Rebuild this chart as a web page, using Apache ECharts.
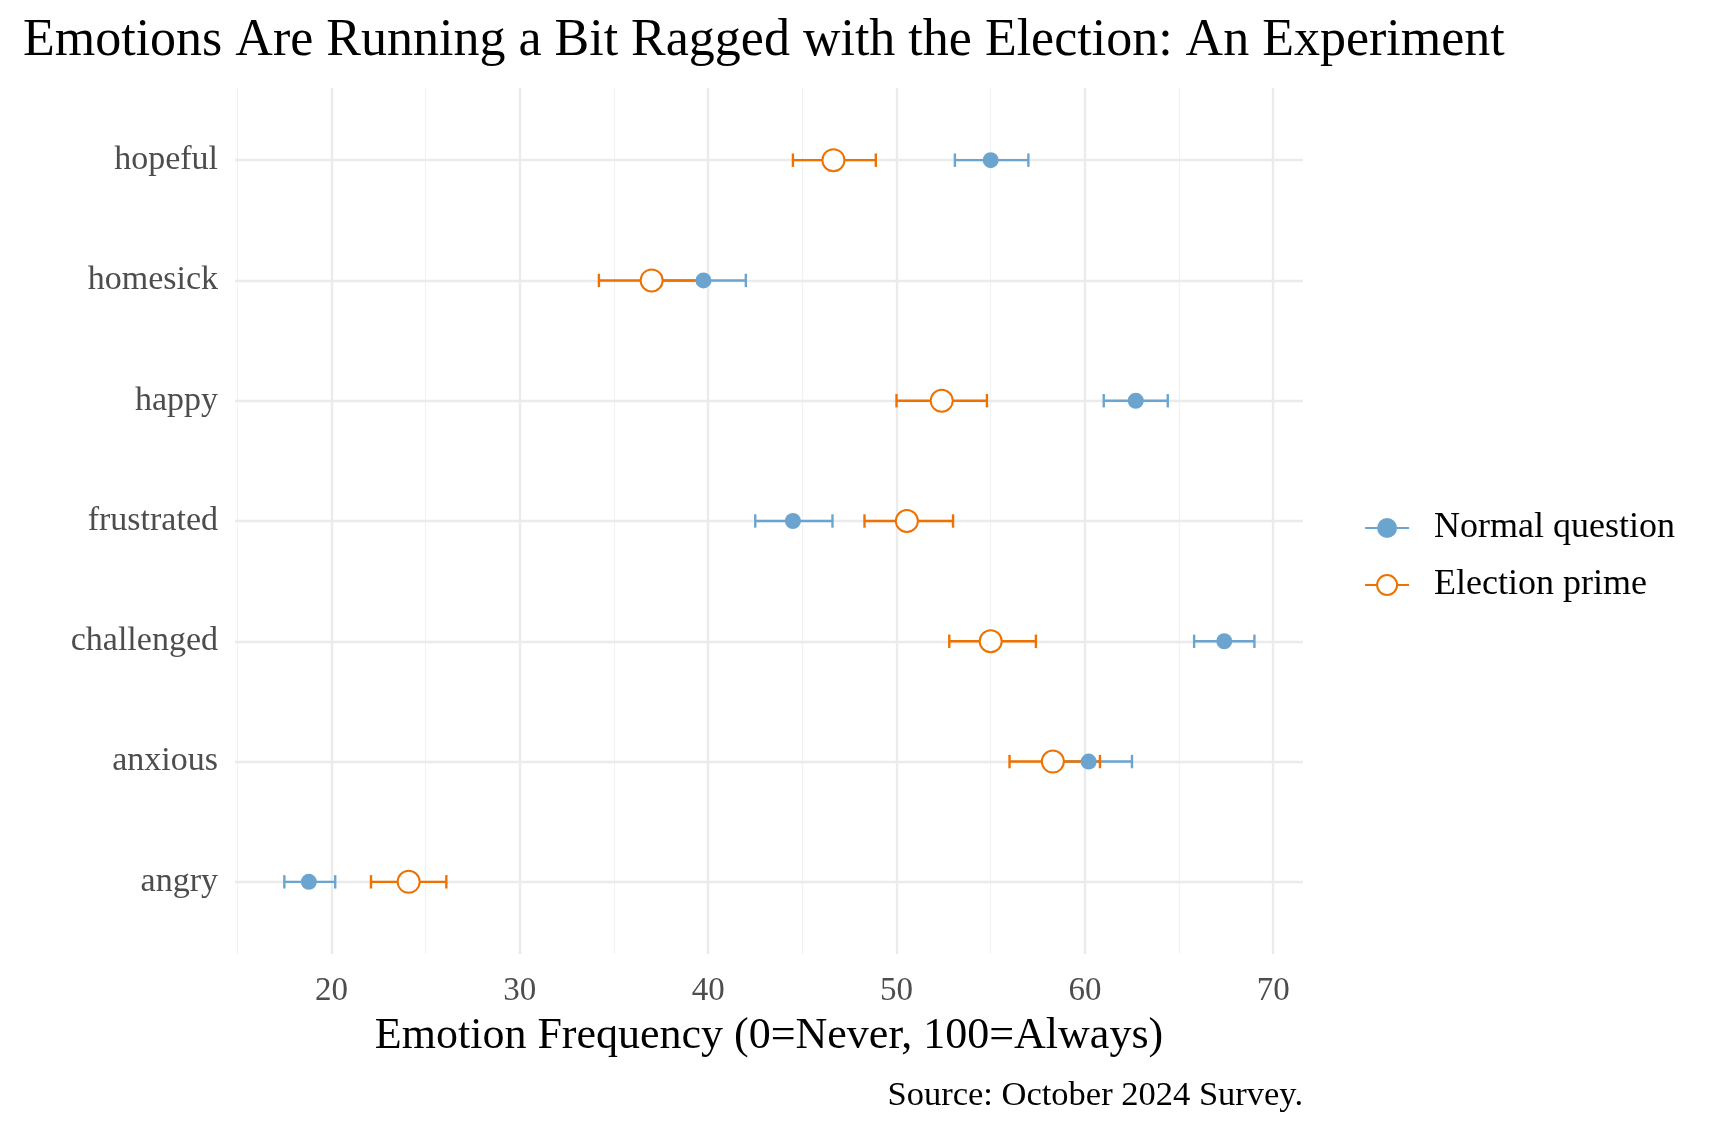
<!DOCTYPE html>
<html><head><meta charset="utf-8">
<script src="https://cdn.jsdelivr.net/npm/echarts@6/dist/echarts.min.js"></script>
<style>html,body{margin:0;padding:0;background:#fff}#c{width:1712px;height:1130px}</style>
</head><body><div id="c"></div>
<script>
const categories = ["angry","anxious","challenged","frustrated","happy","homesick","hopeful"];
const normalMean = [18.8, 60.2, 67.4, 44.5, 62.7, 39.75, 55.0];
const normalLow  = [17.5, 58.0, 65.8, 42.5, 61.0, 37.5, 53.1];
const normalHigh = [20.2, 62.5, 69.0, 46.6, 64.4, 42.0, 57.0];
const primeMean  = [24.1, 58.3, 55.0, 50.55, 52.4, 37.0, 46.65];
const primeLow   = [22.1, 56.0, 52.8, 48.3, 50.0, 34.2, 44.5];
const primeHigh  = [26.1, 60.8, 57.4, 53.0, 54.8, 39.75, 48.9];
const xMajorTicks = [20, 30, 40, 50, 60, 70];
const xMinorTicks = [15, 25, 35, 45, 55, 65];
const seriesNames = ["Normal question", "Election prime"];

const BLUE = '#6ba5cf';
const ORANGE = '#ef7200';
const FONT = 'Liberation Serif';

const catPos = categories.map((c, i) => i + 1);

function errRenderer(color) {
  return function (params, api) {
    const y = api.value(0);
    const lo = api.coord([api.value(1), y]);
    const hi = api.coord([api.value(2), y]);
    const cap = 6.7;
    const style = { stroke: color, lineWidth: 2.4, fill: null };
    return {
      type: 'group',
      children: [
        { type: 'line', shape: { x1: lo[0], y1: lo[1], x2: hi[0], y2: hi[1] }, style },
        { type: 'line', shape: { x1: lo[0], y1: lo[1] - cap, x2: lo[0], y2: lo[1] + cap }, style },
        { type: 'line', shape: { x1: hi[0], y1: hi[1] - cap, x2: hi[0], y2: hi[1] + cap }, style }
      ]
    };
  };
}

const gridLineData = []
  .concat(xMinorTicks.map(v => ({ xAxis: v, lineStyle: { color: '#f2f2f2', width: 1.2, type: 'solid' } })))
  .concat(xMajorTicks.map(v => ({ xAxis: v, lineStyle: { color: '#ebebeb', width: 2.4, type: 'solid' } })))
  .concat(catPos.map(v => ({ yAxis: v, lineStyle: { color: '#ebebeb', width: 2.4, type: 'solid' } })));

const chart = echarts.init(document.getElementById('c'));
chart.setOption({
  animation: false,
  backgroundColor: '#ffffff',
  title: {
    text: 'Emotions Are Running a Bit Ragged with the Election: An Experiment',
    left: 18, top: 10,
    textStyle: { fontFamily: FONT, fontSize: 52, fontWeight: 'normal', color: '#000' }
  },
  grid: { left: 235, right: 409, top: 88, bottom: 176, containLabel: false },
  xAxis: {
    type: 'value', min: 14.88, max: 71.58,
    axisLine: { show: false }, axisTick: { show: false, customValues: xMajorTicks },
    splitLine: { show: false },
    axisLabel: {
      customValues: xMajorTicks,
      formatter: v => (Math.abs(v % 10) < 1e-6 ? String(v) : ''),
      fontFamily: FONT, fontSize: 33, color: '#4d4d4d', margin: 21
    },
    name: 'Emotion Frequency (0=Never, 100=Always)',
    nameLocation: 'middle', nameGap: 60,
    nameTextStyle: { fontFamily: FONT, fontSize: 44, color: '#000' }
  },
  yAxis: {
    type: 'value', min: 0.4, max: 7.6,
    axisLine: { show: false }, axisTick: { show: false, customValues: catPos },
    splitLine: { show: false },
    axisLabel: {
      customValues: catPos,
      formatter: v => { const i = Math.round(v) - 1; return (Math.abs(v - Math.round(v)) < 1e-6 && categories[i]) ? categories[i] : ''; },
      fontFamily: FONT, fontSize: 34, color: '#4d4d4d', margin: 17
    }
  },
  legend: {
    orient: 'vertical', left: 1359, top: 505,
    itemWidth: 44, itemHeight: 25, itemGap: 21,
    data: seriesNames,
    lineStyle: { width: 2.2, opacity: 1 },
    textStyle: { fontFamily: FONT, fontSize: 36, color: '#000', padding: [0, 0, 0, 20] }
  },
  graphic: [{
    type: 'text', right: 409, top: 1078,
    style: { text: 'Source: October 2024 Survey.', font: '34.5px "Liberation Serif"', fill: '#000', textAlign: 'right' }
  }],
  series: [
    {
      type: 'scatter', name: 'gridlines', data: [], z: 0, silent: true,
      markLine: { z: 0, silent: true, symbol: ['none', 'none'], label: { show: false }, animation: false, data: gridLineData }
    },
    {
      type: 'custom', name: 'Normal question CI', z: 2, silent: true,
      renderItem: errRenderer(BLUE),
      encode: { x: [1, 2], y: 0 },
      data: catPos.map((p, i) => [p, normalLow[i], normalHigh[i]])
    },
    {
      type: 'custom', name: 'Election prime CI', z: 3, silent: true,
      renderItem: errRenderer(ORANGE),
      encode: { x: [1, 2], y: 0 },
      data: catPos.map((p, i) => [p, primeLow[i], primeHigh[i]])
    },
    {
      type: 'line', name: seriesNames[0], z: 4,
      symbol: 'circle', symbolSize: 16,
      itemStyle: { color: BLUE },
      lineStyle: { color: BLUE, opacity: 0, width: 0 },
      emphasis: { disabled: true },
      data: catPos.map((p, i) => [normalMean[i], p])
    },
    {
      type: 'line', name: seriesNames[1], z: 5,
      symbol: 'emptyCircle', symbolSize: 22,
      itemStyle: { color: ORANGE, borderWidth: 1.8 },
      lineStyle: { color: ORANGE, opacity: 0, width: 0 },
      emphasis: { disabled: true },
      data: catPos.map((p, i) => [primeMean[i], p])
    }
  ]
});
</script>
</body></html>
